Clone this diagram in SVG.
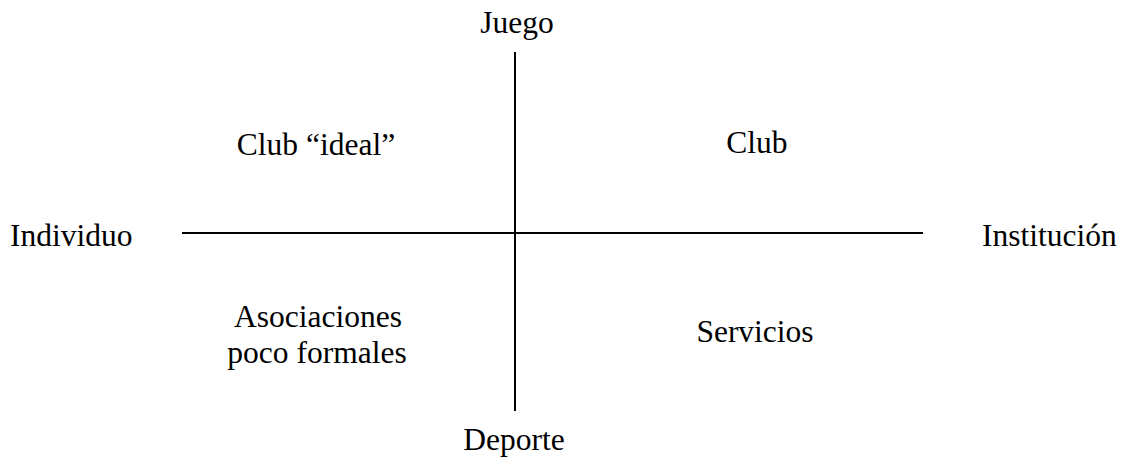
<svg xmlns="http://www.w3.org/2000/svg" width="1121" height="457" viewBox="0 0 1121 457">
<style>
text{font-family:"Liberation Serif","Times New Roman",serif;font-size:31.5px;fill:#000}
.c{text-anchor:middle}
line{stroke:#000;stroke-width:2}
</style>
<rect width="1121" height="457" fill="#fff"/>
<g id="connectors">
<line x1="515" y1="52" x2="515" y2="411"/>
<line x1="182" y1="233" x2="923" y2="233"/>
</g>
<g id="juego"><text class="c" x="517" y="33">Juego</text></g>
<g id="deporte"><text class="c" x="514" y="450">Deporte</text></g>
<g id="individuo"><text x="10" y="246">Individuo</text></g>
<g id="institucion"><text x="982" y="246">Institución</text></g>
<g id="club-ideal"><text class="c" x="316" y="155">Club “ideal”</text></g>
<g id="club"><text class="c" x="757" y="153">Club</text></g>
<g id="asociaciones"><text class="c" x="318" y="327">Asociaciones</text><text class="c" x="317" y="363">poco formales</text></g>
<g id="servicios"><text class="c" x="755" y="342">Servicios</text></g>
</svg>
